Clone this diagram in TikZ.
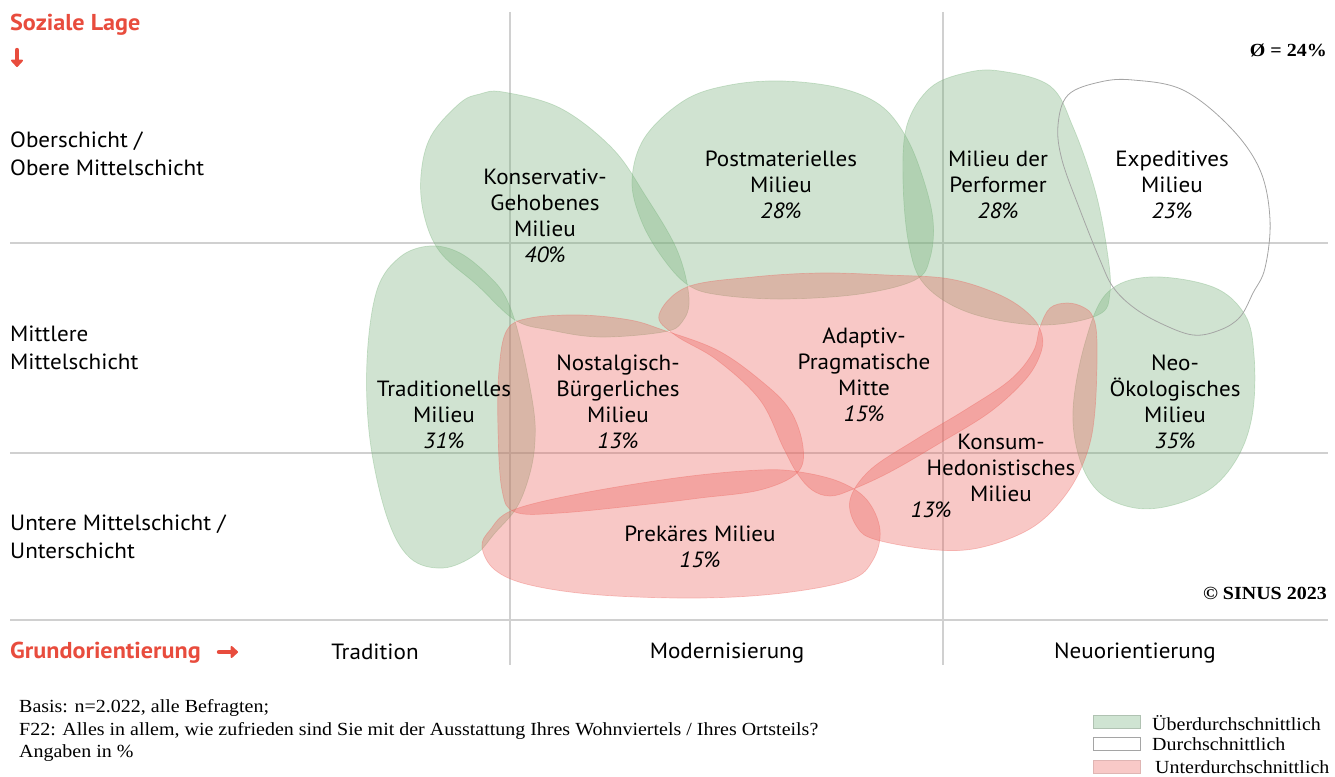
\documentclass[tikz,border=0pt]{standalone}
\usepackage{fontspec}
\setmainfont{Liberation Serif}
\newfontfamily\notef[FakeStretch=1.08]{Liberation Serif}
\newfontfamily\sansf[FakeStretch=1.05]{PT Sans}
\usetikzlibrary{arrows.meta}
\definecolor{gfill}{RGB}{119,176,122}
\definecolor{rfill}{RGB}{235,98,92}
\definecolor{accent}{RGB}{232,76,61}
\definecolor{gridc}{RGB}{208,208,208}
\definecolor{expc}{RGB}{165,165,165}
\definecolor{leggreen}{RGB}{207,228,210}
\definecolor{legred}{RGB}{248,201,199}
\begin{document}
\begin{tikzpicture}[x=1pt,y=-1pt,
  gridline/.style={draw=gridc, line width=1.2pt},
  greenblob/.style={fill=gfill, fill opacity=0.35, draw=gfill, draw opacity=0.35, line width=0.7pt},
  redblob/.style={fill=rfill, fill opacity=0.35, draw=rfill, draw opacity=0.35, line width=0.7pt},
  whiteblob/.style={draw=expc, line width=0.8pt},
  lbl/.style={inner sep=0pt, align=center, font=\sansf\fontsize{22}{26}\selectfont},
  side/.style={inner sep=0pt, align=left, anchor=west, font=\sansf\fontsize{22}{28.5}\selectfont},
  axis/.style={inner sep=0pt, font=\sansf\fontsize{22}{26}\selectfont},
  accenttext/.style={inner sep=0pt, anchor=west, text=accent, font=\sansf\bfseries\fontsize{23}{26}\selectfont},
  accentarrow/.style={draw=accent, line width=4.4pt, line cap=round, -{Triangle[length=8pt,width=14pt,round]}},
  note/.style={inner sep=0pt, anchor=west, font=\notef\fontsize{18.5}{22.5}\selectfont},
  boldnote/.style={inner sep=0pt, anchor=east, font=\notef\bfseries\fontsize{18.5}{22}\selectfont},
  legbox/.style={minimum width=47pt, minimum height=13pt, inner sep=0pt, line width=0.8pt}
]
\useasboundingbox (0,0) rectangle (1335,776);

% grid
\coordinate (v1t) at (510,12);  \coordinate (v1b) at (510,665);
\coordinate (v2t) at (943,12);  \coordinate (v2b) at (943,665);
\coordinate (h1l) at (10,243);  \coordinate (h1r) at (1328,243);
\coordinate (h2l) at (10,453);  \coordinate (h2r) at (1328,453);
\coordinate (h3l) at (10,620);  \coordinate (h3r) at (1328,620);
\draw[gridline] (v1t) -- (v1b);
\draw[gridline] (v2t) -- (v2b);
\draw[gridline] (h1l) -- (h1r);
\draw[gridline] (h2l) -- (h2r);
\draw[gridline] (h3l) -- (h3r);

% green milieus
\draw[greenblob] plot[smooth cycle, tension=0.6] coordinates {(503,92) (560,108) (612,148) (645,195) (677,250) (689,298) (682,322) (663,332) (600,337) (550,330) (515,320) (477,285) (440,252) (424,215) (421,175) (431,136) (460,103) (480,94)};
\draw[greenblob] plot[smooth cycle, tension=0.6] coordinates {(783,81) (840,88) (880,105) (905,135) (922,175) (933,220) (930,258) (915,280) (860,294) (783,299) (720,295) (688,285) (662,257) (641,220) (632,180) (645,137) (685,100) (730,85)};
\draw[greenblob] plot[smooth cycle, tension=0.6] coordinates {(1000,71) (1050,86) (1073,127) (1095,190) (1107,250) (1110,292) (1098,315) (1040,325) (970,313) (925,285) (909,245) (903,180) (907,125) (930,88) (965,73)};
\draw[greenblob] plot[smooth cycle, tension=0.6] coordinates {(1150,277) (1213,287) (1245,315) (1254,355) (1253,410) (1240,453) (1213,487) (1173,505) (1135,508) (1100,493) (1080,460) (1073,410) (1085,343) (1107,293)};
\draw[greenblob] plot[smooth cycle, tension=0.6] coordinates {(430,246) (460,253) (490,277) (507,300) (520,340) (533,405) (535,440) (530,473) (517,507) (495,533) (475,555) (443,568) (410,558) (387,517) (370,440) (367,360) (377,290) (400,257)};

% red milieus
\draw[redblob] plot[smooth cycle, tension=0.6] coordinates {(507,330) (530,318) (580,315) (630,320) (663,330) (717,350) (760,380) (790,410) (803,447) (797,473) (760,490) (700,498) (650,504) (560,513) (515,512) (502,490) (498,430) (499,370)};
\draw[redblob] plot[smooth cycle, tension=0.6] coordinates {(659,315) (687,287) (753,277) (820,273) (887,275) (950,279) (1000,295) (1030,315) (1042,335) (1040,355) (1025,380) (990,412) (940,443) (890,472) (851,490) (830,496) (812,490) (797,473) (783,447) (760,400) (717,360) (675,335)};
\draw[redblob] plot[smooth cycle, tension=0.6] coordinates {(1040,327) (1050,308) (1067,303) (1083,307) (1093,317) (1097,343) (1095,410) (1087,453) (1067,493) (1033,527) (983,547) (937,550) (877,540) (857,527) (850,500) (870,470) (915,440) (965,410) (1010,380) (1033,352)};
\draw[redblob] plot[smooth cycle, tension=0.6] coordinates {(482,547) (490,530) (513,510) (583,493) (683,477) (760,470) (800,472) (840,482) (867,500) (880,530) (873,560) (850,580) (783,593) (700,598) (600,595) (530,585) (495,570)};

% average milieu (outline only)
\draw[whiteblob] plot[smooth cycle, tension=0.6] coordinates {(1133,80) (1183,90) (1230,127) (1260,170) (1270,220) (1265,268) (1253,293) (1240,317) (1220,330) (1193,335) (1160,323) (1133,307) (1113,287) (1100,260) (1080,210) (1062,160) (1058,125) (1068,95) (1100,82)};

% milieu labels
\node[lbl] (kon) at (545,216) {Konservativ-\\Gehobenes\\Milieu\\\textit{40\%}};
\node[lbl] (pmat) at (781,185) {Postmaterielles\\Milieu\\\textit{28\%}};
\node[lbl] (perf) at (998,185) {Milieu der\\Performer\\\textit{28\%}};
\node[lbl] (exp) at (1172,185) {Expeditives\\Milieu\\\textit{23\%}};
\node[lbl] (trad) at (444,415) {Traditionelles\\Milieu\\\textit{31\%}};
\node[lbl] (nost) at (618,402) {Nostalgisch-\\Bürgerliches\\Milieu\\\textit{13\%}};
\node[lbl] (adap) at (864,375) {Adaptiv-\\Pragmatische\\Mitte\\\textit{15\%}};
\node[lbl] (neo) at (1175,402) {Neo-\\Ökologisches\\Milieu\\\textit{35\%}};
\node[lbl] (kons) at (1001,468) {Konsum-\\Hedonistisches\\Milieu};
\node[lbl] (konsp) at (931,510) {\textit{13\%}};
\node[lbl] (prek) at (700,547) {Prekäres Milieu\\\textit{15\%}};

% axis titles
\node[accenttext] (soz) at (10,25) {Soziale Lage};
\coordinate (arrT) at (17,50);
\coordinate (arrB) at (17,67);
\draw[accentarrow] (arrT) -- (arrB);
\node[side] (ober) at (10,154) {Oberschicht /\\Obere Mittelschicht};
\node[side] (mitt) at (10,348) {Mittlere\\Mittelschicht};
\node[side] (unt) at (10,537) {Untere Mittelschicht /\\Unterschicht};

\node[accenttext] (grund) at (10,653) {Grundorientierung};
\coordinate (arrL) at (219,652);
\coordinate (arrR) at (238,652);
\draw[accentarrow] (arrL) -- (arrR);
\node[axis] (trn) at (375,652) {Tradition};
\node[axis] (mod) at (727,653) {Modernisierung};
\node[axis] (neu) at (1135,653) {Neuorientierung};

\node[boldnote] (avg) at (1327,50) {Ø = 24\%};
\node[boldnote] (copy) at (1327,593) {© SINUS 2023};

% notes
\node[note] (n1) at (19,708) {Basis: n=2.022, alle Befragten;};
\node[note] (n2) at (19,731) {F22: Alles in allem, wie zufrieden sind Sie mit der Ausstattung Ihres Wohnviertels / Ihres Ortsteils?};
\node[note] (n3) at (19,753) {Angaben in \%};

% legend
\node[legbox, fill=leggreen, draw=leggreen!85!black] (lg1) at (1116.5,722) {};
\node[legbox, fill=white, draw=expc] (lg2) at (1116.5,744) {};
\node[legbox, fill=legred, draw=legred!90!black] (lg3) at (1116.5,767) {};
\node[note] (lt1) at (1152,723) {Überdurchschnittlich};
\node[note] (lt2) at (1152,744) {Durchschnittlich};
\node[note] (lt3) at (1155,767) {Unterdurchschnittlich};
\end{tikzpicture}
\end{document}
